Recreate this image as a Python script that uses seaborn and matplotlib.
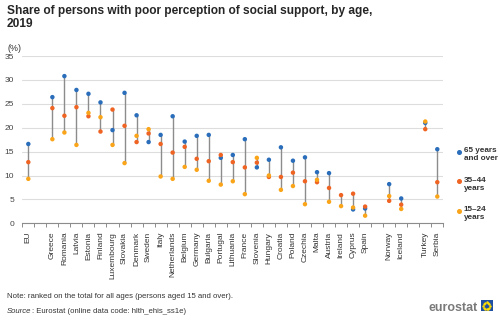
import numpy as np
import pandas as pd
import matplotlib
matplotlib.use("Agg")
import matplotlib.pyplot as plt
from matplotlib.lines import Line2D
import seaborn as sns

# Countries in ranking order (blank slots separate EU / members / EFTA / candidates)
countries = ["EU", "Greece", "Romania", "Latvia", "Estonia", "Finland", "Luxembourg",
             "Slovakia", "Denmark", "Sweden", "Italy", "Netherlands", "Belgium", "Germany",
             "Bulgaria", "Portugal", "Lithuania", "France", "Slovenia", "Hungary", "Croatia",
             "Poland", "Czechia", "Malta", "Austria", "Ireland", "Cyprus", "Spain",
             "Norway", "Iceland", "Turkey", "Serbia"]
slot_order = ["EU", " "] + countries[1:28] + ["  "] + ["Norway", "Iceland"] + ["   "] + ["Turkey", "Serbia"]

age_65_over = [16.6, 26.4, 30.8, 27.9, 27.1, 25.3, 19.5, 27.3, 22.6, 17.0, 18.5, 22.4,
               17.1, 18.3, 18.5, 13.7, 14.3, 17.6, 11.7, 13.3, 15.9, 13.1, 13.8, 10.7,
               10.5, np.nan, 2.9, 3.1, 8.2, 5.2, 21.0, 15.5]
age_35_44 = [12.8, 24.1, 22.5, 24.3, 22.4, 19.2, 23.8, 20.4, 17.0, 18.8, 16.6, 14.8,
             16.0, 13.5, 13.0, 14.3, 12.8, 11.7, 12.7, 9.7, 9.7, 10.6, 8.8, 8.6,
             7.4, 5.9, 6.2, 3.5, 4.7, 3.9, 19.7, 8.6]
age_15_24 = [9.3, 17.6, 19.0, 16.4, 23.1, 22.2, 16.4, 12.6, 18.3, 19.7, 9.8, 9.3,
             11.8, 11.2, 8.9, 8.1, 8.8, 6.1, 13.7, 10.0, 7.0, 7.8, 4.0, 9.1,
             4.5, 3.6, 3.3, 1.6, 5.7, 3.0, 21.3, 5.6]

groups = ["65 years\nand over", "35\u201344\nyears", "15\u201324\nyears"]
colors = ["#2A6EBB", "#F06423", "#FAA519"]

wide = pd.DataFrame({"country": countries,
                     groups[0]: age_65_over,
                     groups[1]: age_35_44,
                     groups[2]: age_15_24})
long = wide.melt(id_vars="country", var_name="age", value_name="share").dropna()

sns.set_style("white")
plt.rcParams["font.family"] = ["Liberation Sans", "DejaVu Sans"]

fig = plt.figure(figsize=(5.0, 3.22), dpi=100)
ax = fig.add_axes([22.3 / 500, 0.3065, 421 / 500, 0.5195])

# Range line per country from lowest to highest age group
pos = {c: i for i, c in enumerate(slot_order)}
lo = wide[groups].min(axis=1)
hi = wide[groups].max(axis=1)
ax.vlines([pos[c] for c in wide["country"]], lo, hi, color="#8C8C8C", lw=1.0, zorder=2)

sns.stripplot(data=long, x="country", y="share", hue="age", order=slot_order,
              hue_order=groups, palette=colors, jitter=False, dodge=False,
              size=3.2, linewidth=0, marker="o", ax=ax, zorder=3, legend=False)

ax.set_ylim(0, 35)
ax.set_xlim(-0.5, len(slot_order) - 0.5)
ax.set_yticks(range(0, 36, 5))
ax.yaxis.grid(True, color="#DDDDDD", lw=0.8)
ax.set_axisbelow(True)
ax.set_xlabel("")
ax.set_ylabel("")
for s in ["top", "right", "left"]:
    ax.spines[s].set_visible(False)
ax.spines["bottom"].set_color("#8C8C8C")
ax.spines["bottom"].set_linewidth(0.8)

ax.set_xticks(range(len(slot_order)))
ax.set_xticklabels(slot_order, rotation=90, fontsize=6.0, color="#333333")
ax.tick_params(axis="x", which="major", length=0, pad=6)
ax.set_xticks(np.arange(-0.5, len(slot_order), 1.0), minor=True)
ax.tick_params(axis="x", which="minor", length=3, color="#8C8C8C", width=0.7, bottom=True)
ax.tick_params(axis="y", length=0, labelsize=6.0, labelcolor="#444444", pad=6)

# Legend on the right
for k, (g, c) in enumerate(zip(groups, colors)):
    y = 0.528 - k * 0.0916
    fig.add_artist(Line2D([0.917], [y], marker="o", markersize=2.6, color=c,
                          linestyle="none", transform=fig.transFigure))
    fig.text(0.927, y + 0.014, g, fontsize=5.9, fontweight="bold", color="#333333",
             ha="left", va="top", linespacing=1.15)

fig.text(0.014, 0.985, "Share of persons with poor perception of social support, by age,\n2019",
         fontsize=8.6, fontweight="bold", ha="left", va="top", linespacing=1.12)
fig.text(0.014, 0.862, "(%)", fontsize=6.4, color="#333333", ha="left", va="top")

fig.text(0.014, 0.078, "Note: ranked on the total for all ages (persons aged 15 and over).",
         fontsize=5.6, color="#333333", ha="left", va="center")
fig.text(0.014, 0.034, "Source", fontsize=5.6, style="italic", color="#333333",
         ha="left", va="center")
fig.text(0.065, 0.034, ": Eurostat (online data code: hlth_ehis_ss1e)",
         fontsize=5.6, color="#333333", ha="left", va="center")

# Eurostat logo
fig.text(0.955, 0.035, "eurostat", fontsize=9, color="#7A7A7A", ha="right",
         va="baseline", fontweight="bold")
flag = fig.add_axes([0.961, 0.033, 0.024, 0.034])
flag.set_facecolor("#1F4FA0")
flag.set_xticks([]); flag.set_yticks([])
for s in flag.spines.values():
    s.set_visible(False)
ang = np.linspace(0, 2 * np.pi, 12, endpoint=False)
flag.scatter(0.5 + 0.28 * np.cos(ang), 0.5 + 0.32 * np.sin(ang), s=0.6, color="#FFDD00")
flag.set_xlim(0, 1); flag.set_ylim(0, 1)

fig.savefig("out.png", dpi=100)
